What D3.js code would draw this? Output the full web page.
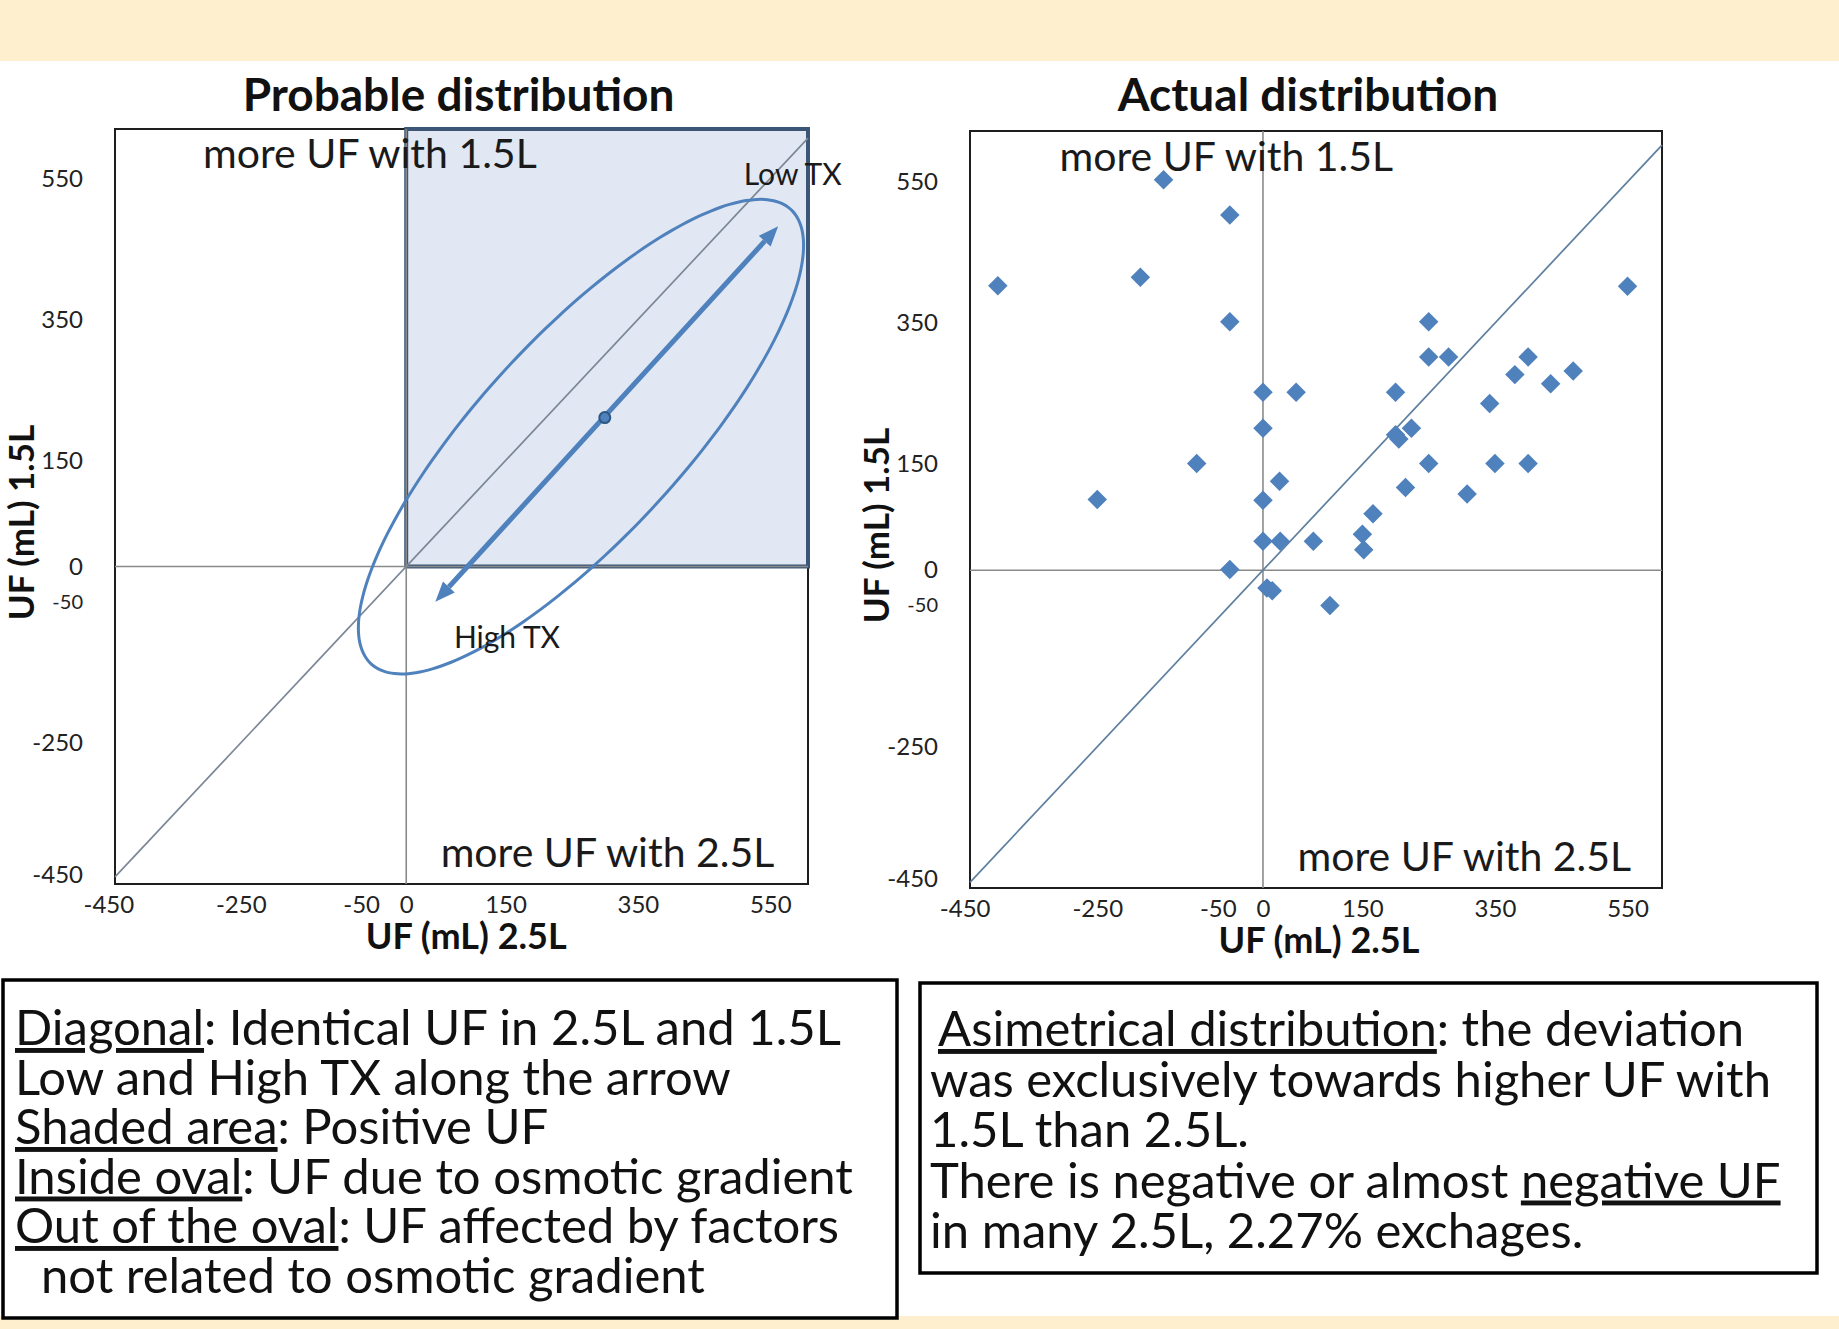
<!DOCTYPE html>
<html>
<head>
<meta charset="utf-8">
<script src="https://cdn.jsdelivr.net/npm/d3@7"></script>
<style>
  body { margin: 0; background: #fff; }
  svg { display: block; font-family: Lato, "Open Sans", sans-serif; }
</style>
</head>
<body>
<script>
// tick values used on both panels
const xTicks = [-450, -250, -50, 0, 150, 350, 550];
const yTicks = [-450, -250, -50, 0, 150, 350, 550];

// actual distribution, one entry per exchange pair (mL)
const uf25 = [-400, -150, -50, -185, -50, 550,
              250, 250, 280, 400, 380, 434, 468, 342,
              200, 0, 50, 0, 224, 200, 205,
              -100, -250, 25, 0, 250, 350, 400,
              215, 308, 166, 150, 152, 0, 26, 76,
              -50, 6, 14, 101];
const uf15 = [403, 553, 503, 415, 352, 402,
              352, 302, 302, 302, 277, 264, 282, 236,
              252, 252, 252, 201, 201, 192, 186,
              151, 100, 126, 99, 151, 151, 151,
              117, 108, 80, 51, 29, 41, 41, 41,
              1, -25, -29, -50];

// probable distribution sketch, in data units
const ovalCenter = [264, 184];
const ovalAxes = [452, 148];      // along / across the diagonal
const arrowHigh = [44, -50];
const arrowLow = [562, 482];
const arrowMid = [300, 211];

const quadrantNotes = [
  {text: "more UF with 1.5L", x: -307, y: 565},
  {text: "more UF with 2.5L", x: 52, y: -426}
];
const txNotes = [
  {text: "Low TX", x: 510, y: 540},
  {text: "High TX", x: 72, y: -115}
];

const leftNotes = [
  [["Diagonal", true], [": Identical UF in 2.5L and 1.5L", false]],
  [["Low and High TX along the arrow", false]],
  [["Shaded area", true], [": Positive UF", false]],
  [["Inside oval", true], [": UF due to osmotic gradient", false]],
  [["Out of the oval", true], [": UF affected by factors", false]],
  [["not related to osmotic gradient", false]]
];
const rightNotes = [
  [["Asimetrical distribution", true], [": the deviation", false]],
  [["was exclusively towards higher UF with", false]],
  [["1.5L than 2.5L.", false]],
  [["There is negative or almost ", false], ["negative UF", true]],
  [["in many 2.5L, 2.27% exchages.", false]]
];

const width = 1839, height = 1329;
const blue = "#4f81bd";

const svg = d3.select("body").append("svg")
    .attr("width", width)
    .attr("height", height);

svg.append("rect").attr("width", width).attr("height", height).attr("fill", "#fff");
svg.append("rect").attr("width", width).attr("height", 61).attr("fill", "#fef0cf");
svg.append("rect").attr("y", 1316).attr("width", width).attr("height", height - 1316).attr("fill", "#fef0cf");

function buildPanel(p) {
    const x = d3.scaleLinear().domain(p.xDomain).range([p.x0, p.x1]);
    const y = d3.scaleLinear().domain(p.yDomain).range([p.y1, p.y0]);
    const g = svg.append("g");

    g.append("rect")
        .attr("x", p.x0).attr("y", p.y0)
        .attr("width", p.x1 - p.x0).attr("height", p.y1 - p.y0)
        .attr("fill", "#fff")
        .attr("stroke", "#1e1e1e")
        .attr("stroke-width", 2);

    if (p.shaded) {
        g.append("rect")
            .attr("x", x(0)).attr("y", p.y0)
            .attr("width", p.x1 - x(0)).attr("height", y(0) - p.y0)
            .attr("fill", "#e1e8f3")
            .attr("stroke", "#3b5676")
            .attr("stroke-width", 4);
    }

    g.append("line")
        .attr("x1", x(0)).attr("x2", x(0))
        .attr("y1", p.y0).attr("y2", p.y1)
        .attr("stroke", "#8a8a8a").attr("stroke-width", 1.6);
    g.append("line")
        .attr("x1", p.x0).attr("x2", p.x1)
        .attr("y1", y(0)).attr("y2", y(0))
        .attr("stroke", "#8a8a8a").attr("stroke-width", 1.6);

    const lo = Math.max(p.xDomain[0], p.yDomain[0]);
    const hi = Math.min(p.xDomain[1], p.yDomain[1]);
    g.append("path")
        .attr("d", d3.line().x(d => x(d)).y(d => y(d))([lo, hi]))
        .attr("stroke", p.diagColor)
        .attr("stroke-width", 1.7)
        .attr("fill", "none");

    const ax = g.append("g")
        .attr("transform", "translate(0," + p.y1 + ")")
        .call(d3.axisBottom(x).tickValues(xTicks).tickSize(0).tickPadding(12)
            .tickFormat(d => String(d)));
    ax.select(".domain").remove();
    ax.selectAll("text")
        .attr("font-family", "Lato, sans-serif")
        .attr("font-size", 24)
        .attr("fill", "#222")
        .attr("dx", d => d === -50 ? -12 : 0);

    const ay = g.append("g")
        .attr("transform", "translate(" + p.x0 + ",0)")
        .call(d3.axisLeft(y).tickValues(yTicks).tickSize(0).tickPadding(32)
            .tickFormat(d => String(d)));
    ay.select(".domain").remove();
    ay.selectAll("text")
        .attr("font-family", "Lato, sans-serif")
        .attr("font-size", d => d === -50 ? 20 : 24)
        .attr("fill", "#222");
    // lowest label sits a little above the bottom edge
    ay.selectAll(".tick").filter(d => d === -450)
        .select("text").attr("y", -9);

    svg.append("text")
        .attr("x", (p.x0 + p.x1) / 2 + p.titleShift)
        .attr("y", 111)
        .attr("text-anchor", "middle")
        .attr("font-weight", "bold")
        .attr("font-size", 46)
        .attr("fill", "#111")
        .text(p.title);

    svg.append("text")
        .attr("x", x(0) + p.xTitleShift)
        .attr("y", p.y1 + 65)
        .attr("text-anchor", "middle")
        .attr("font-weight", "bold")
        .attr("font-size", 36)
        .attr("fill", "#111")
        .text("UF (mL) 2.5L");

    svg.append("text")
        .attr("transform", "translate(" + (p.x0 - 81) + "," + ((p.y0 + p.y1) / 2 + 16) + ") rotate(-90)")
        .attr("text-anchor", "middle")
        .attr("font-weight", "bold")
        .attr("font-size", 35)
        .attr("fill", "#111")
        .text("UF (mL) 1.5L");

    return {g: g, x: x, y: y};
}

const L = buildPanel({
    xDomain: [-440, 607], yDomain: [-450, 620],
    x0: 115, x1: 808, y0: 129, y1: 884,
    shaded: true, diagColor: "#7b8796",
    title: "Probable distribution", titleShift: -3, xTitleShift: 60
});

const R = buildPanel({
    xDomain: [-442, 602], yDomain: [-450, 622],
    x0: 970, x1: 1662, y0: 131, y1: 888,
    shaded: false, diagColor: "#5f7f9f",
    title: "Actual distribution", titleShift: -8, xTitleShift: 56
});

// oval drawn around the diagonal
const oval = d3.range(0, 360, 3).map(deg => {
    const t = deg * Math.PI / 180;
    const du = ovalAxes[0] * Math.cos(t), dv = ovalAxes[1] * Math.sin(t);
    return [ovalCenter[0] + (du - dv) / Math.SQRT2, ovalCenter[1] + (du + dv) / Math.SQRT2];
});
L.g.append("path")
    .attr("d", d3.line().x(d => L.x(d[0])).y(d => L.y(d[1])).curve(d3.curveCardinalClosed)(oval))
    .attr("fill", "none")
    .attr("stroke", blue)
    .attr("stroke-width", 3);

// double headed arrow
const pA = [L.x(arrowHigh[0]), L.y(arrowHigh[1])];
const pB = [L.x(arrowLow[0]), L.y(arrowLow[1])];
const len = Math.hypot(pB[0] - pA[0], pB[1] - pA[1]);
const ux = (pB[0] - pA[0]) / len, uy = (pB[1] - pA[1]) / len;
const headLen = 20, headHalf = 8;
L.g.append("line")
    .attr("x1", pA[0] + ux * headLen).attr("y1", pA[1] + uy * headLen)
    .attr("x2", pB[0] - ux * headLen).attr("y2", pB[1] - uy * headLen)
    .attr("stroke", blue)
    .attr("stroke-width", 5);
[[pA, -1], [pB, 1]].forEach(([tip, s]) => {
    const bx = tip[0] - s * ux * headLen, by = tip[1] - s * uy * headLen;
    L.g.append("path")
        .attr("d", "M" + tip[0] + "," + tip[1] +
            "L" + (bx - uy * headHalf) + "," + (by + ux * headHalf) +
            "L" + (bx + uy * headHalf) + "," + (by - ux * headHalf) + "Z")
        .attr("fill", blue);
});
L.g.append("circle")
    .attr("cx", L.x(arrowMid[0])).attr("cy", L.y(arrowMid[1]))
    .attr("r", 5.5)
    .attr("fill", blue)
    .attr("stroke", "#2d5680")
    .attr("stroke-width", 2);

[L, R].forEach(P => {
    P.g.selectAll("text.quad").data(quadrantNotes).join("text")
        .attr("class", "quad")
        .attr("x", d => P.x(d.x)).attr("y", d => P.y(d.y))
        .attr("font-size", 41)
        .attr("fill", "#1a1a1a")
        .text(d => d.text);
});

L.g.selectAll("text.tx").data(txNotes).join("text")
    .attr("class", "tx")
    .attr("x", d => L.x(d.x)).attr("y", d => L.y(d.y))
    .attr("font-size", 30)
    .attr("fill", "#1a1a1a")
    .text(d => d.text);

// actual distribution points
R.g.selectAll("path.pt").data(d3.zip(uf25, uf15)).join("path")
    .attr("class", "pt")
    .attr("d", d3.symbol(d3.symbolSquare, 190))
    .attr("transform", d => "translate(" + R.x(d[0]) + "," + R.y(d[1]) + ") rotate(45)")
    .attr("fill", blue);

function noteBox(b, lines) {
    svg.append("rect")
        .attr("x", b.x).attr("y", b.y)
        .attr("width", b.w).attr("height", b.h)
        .attr("fill", "#fff")
        .attr("stroke", "#000")
        .attr("stroke-width", 3.5);
    const t = svg.append("g")
        .attr("font-size", b.fontSize)
        .attr("fill", "#111");
    lines.forEach((segs, i) => {
        const txt = t.append("text")
            .attr("x", b.textX + (b.indent[i] || 0))
            .attr("y", b.firstLine + i * b.lineGap);
        segs.forEach(s => {
            txt.append("tspan")
                .style("text-decoration", s[1] ? "underline" : null)
                .text(s[0]);
        });
    });
}

noteBox({x: 3, y: 980, w: 894, h: 338, textX: 15, firstLine: 1045, lineGap: 49.5,
         fontSize: 49, indent: {5: 26}}, leftNotes);
noteBox({x: 920, y: 983, w: 897, h: 290, textX: 930, firstLine: 1046, lineGap: 50.5,
         fontSize: 49, indent: {0: 8}}, rightNotes);
</script>
</body>
</html>
